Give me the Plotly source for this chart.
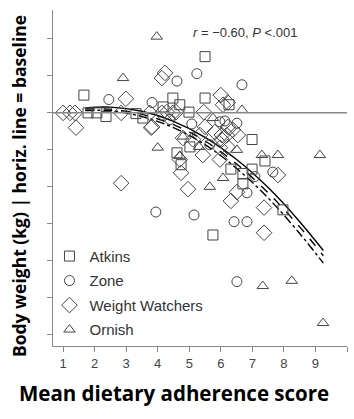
import plotly.graph_objects as go

# ---- data ----
atkins_x = [1.66, 1.79, 2.07, 2.36, 3.31, 3.53, 4.17, 4.48, 4.70, 4.99, 5.50, 5.50, 6.26,
            5.02, 4.61, 6.99, 7.40, 4.74, 6.32, 6.70, 6.70, 6.99, 7.97, 5.75]
atkins_y = [2.4, 0.0, 0.0, -0.5, -0.1, -0.7, 0.8, 2.0, 1.1, 0.1, 2.0, 7.6, 1.1,
            -4.6, -5.4, -3.6, -6.5, -7.0, -7.6, -8.2, -9.6, -7.6, -13.1, -16.5]

zone_x = [2.45, 3.82, 4.61, 5.24, 6.67, 4.39, 5.08, 5.97, 6.13, 6.51, 5.65, 6.83,
          7.08, 7.65, 3.94, 5.15, 6.42, 6.83, 6.51]
zone_y = [1.8, 1.4, 4.3, 5.3, 3.8, -0.9, -1.5, -1.2, -1.1, -1.4, -4.3, -10.8,
          -8.6, -8.0, -13.4, -13.8, -14.7, -14.7, -22.8]

ww_x = [1.00, 1.22, 1.38, 1.41, 2.99, 2.84, 3.79, 3.75, 4.13, 4.23, 4.13, 4.48, 4.29,
        4.58, 5.46, 6.00, 6.07, 6.22, 3.82, 5.50, 5.81, 6.03, 5.34, 4.80, 5.12, 5.97,
        6.22, 6.38, 6.54, 6.19, 6.03, 6.22, 4.70, 5.43, 5.97, 4.74, 4.96, 6.51, 6.32,
        7.81, 7.37, 7.37, 2.84]
ww_y = [0.0, 0.0, 0.0, -2.0, 1.9, 0.0, -2.0, 0.0, 4.7, 5.4, 0.0, 0.0, 0.1,
        0.1, 0.1, 2.4, 1.1, 1.4, -1.9, -1.9, -2.6, -3.0, -3.0, -3.4, -3.6, -4.7,
        -1.9, -2.3, -3.0, -3.0, -3.6, -4.6, -6.3, -5.7, -6.3, -8.1, -10.3, -10.7, -11.9,
        -8.4, -12.8, -16.2, -9.5]

ornish_x = [3.97, 2.90, 4.00, 6.67, 5.75, 4.80, 5.31, 4.70, 6.51, 7.30, 7.81, 9.14,
            6.07, 5.65, 7.33, 8.25, 9.24]
ornish_y = [10.3, 4.7, -4.7, 0.4, -0.7, -3.2, -4.6, -5.8, -5.0, -5.7, -5.7, -5.7,
            -8.8, -10.0, -23.4, -22.7, -28.4]

fit_x = [1.7, 2.5, 3.5, 4.5, 5.5, 6.5, 7.5, 8.5, 9.25]
fit_solid = [0.66, 0.78, 0.22, -1.15, -3.3, -6.3, -10.1, -14.7, -18.6]
fit_dash = [0.5, 0.5, -0.2, -1.6, -3.8, -6.9, -10.8, -15.4, -19.3]
fit_dashdot = [0.3, 0.3, -0.5, -2.0, -4.3, -7.5, -11.5, -16.3, -20.3]

x_ticks = [1, 2, 3, 4, 5, 6, 7, 8, 9, 10]
y_ticks = [10, 5, 0, -5, -10, -15, -20, -25, -30]

# ---- figure ----
fig = go.Figure()

for xs, ys, dash in [(fit_x, fit_solid, "solid"), (fit_x, fit_dash, "dash"),
                     (fit_x, fit_dashdot, "dashdot")]:
    fig.add_trace(go.Scatter(x=xs, y=ys, mode="lines", line=dict(color="black", width=1.4,
                             dash=dash, shape="spline"), showlegend=False, hoverinfo="skip"))

mk_line = dict(color="#444444", width=1)
series = [("Atkins", atkins_x, atkins_y, "square-open", 10),
          ("Zone", zone_x, zone_y, "circle-open", 10),
          ("Weight Watchers", ww_x, ww_y, "diamond-open", 12),
          ("Ornish", ornish_x, ornish_y, "triangle-up-open", 10)]
for i, (name, xs, ys, sym, sz) in enumerate(series):
    fig.add_trace(go.Scatter(x=xs, y=ys, mode="markers", name=name, legendgroup=str(i),
                             marker=dict(symbol=sym, size=sz, color="#444444",
                                         line=mk_line)))

fig.add_shape(type="line", xref="paper", x0=0, x1=1, yref="y", y0=0, y1=0,
              line=dict(color="#888888", width=1.5))

fig.add_annotation(text="<i>r</i> = −0.60, <i>P</i> <.001", xref="paper", yref="paper",
                   x=0.653, y=0.9345, showarrow=False, xanchor="center", yanchor="middle",
                   font=dict(family="Liberation Sans", size=13, color="#333333"))
fig.add_annotation(text="<b>Mean dietary adherence score</b>", xref="paper", yref="paper",
                   x=0.4116, y=-0.14, showarrow=False, xanchor="center", yanchor="middle",
                   font=dict(family="Open Sans", size=20.5, color="black"))
fig.add_annotation(text="<b>Body weight (kg) | horiz. line = baseline</b>", xref="paper",
                   yref="paper", x=-0.1156, y=0.476, textangle=-90, showarrow=False,
                   xanchor="center", yanchor="middle",
                   font=dict(family="Open Sans", size=17.5, color="black"))

fig.update_xaxes(range=[0.68, 10.0], tickvals=x_ticks, ticks="outside", ticklen=5,
                 tickcolor="#888888", showline=True, linecolor="#888888", linewidth=1,
                 showgrid=False, zeroline=False,
                 tickfont=dict(family="Liberation Sans", size=13, color="#444444"))
fig.update_yaxes(range=[-31.5, 13.9], tickvals=y_ticks, ticks="outside", ticklen=5,
                 tickcolor="#888888", showline=True, linecolor="#888888", linewidth=1,
                 showgrid=False, zeroline=False, showticklabels=False)

fig.update_layout(width=354, height=419, margin=dict(l=53, r=7, t=10, b=73),
                  plot_bgcolor="white", paper_bgcolor="white",
                  legend=dict(x=-0.012, y=0.316, xanchor="left", yanchor="top",
                              bgcolor="rgba(0,0,0,0)", tracegroupgap=2,
                              font=dict(family="Liberation Sans", size=15, color="#333333")))

fig.write_html("out.html")
